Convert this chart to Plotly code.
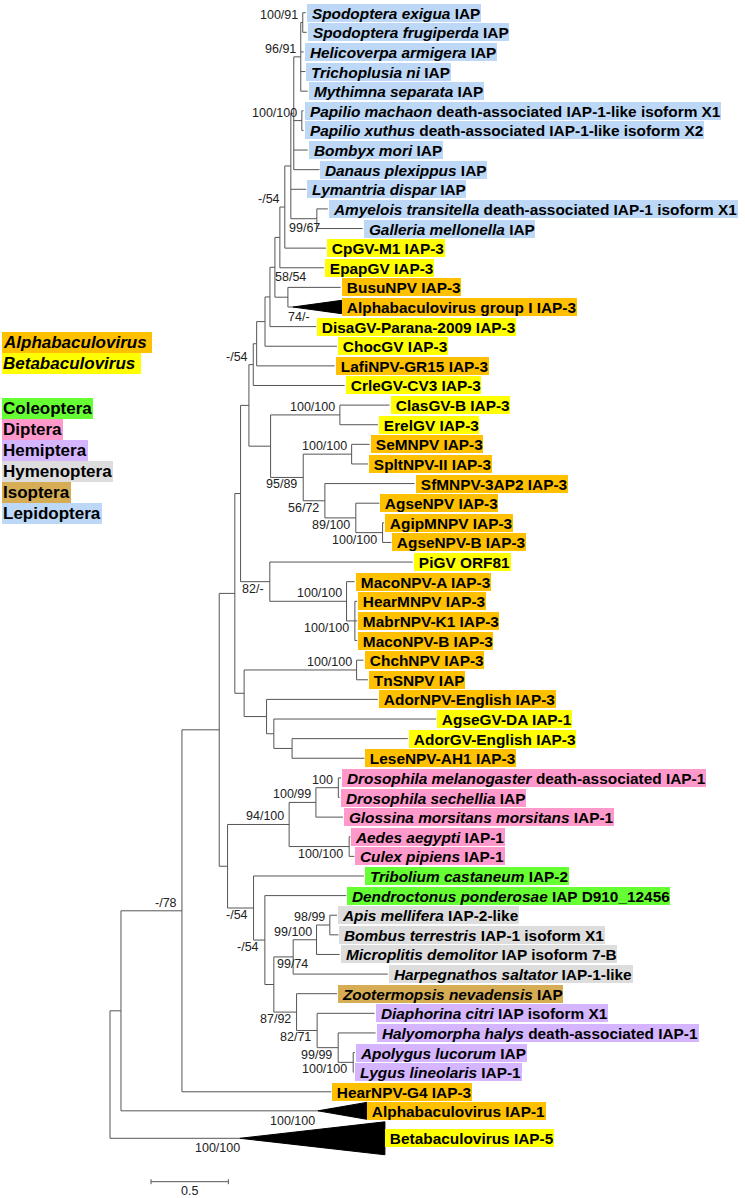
import re
import plotly.graph_objects as go

# ============================ DATA ============================
# Tree (Newick): branch lengths in substitutions/site, internal labels = support values
newick_lepidoptera = ("((((SpEx:0.019,SpFr:0.026)100/91:0.013,HeAr:0.019,TrNi:0.030,MySe:0.045)96/91:0.045,"
                      "(PaMa:0.011,PaXu:0.011)100/100:0.052,BoMo:0.090,DaPl:0.166):0.019,"
                      "LyDi:0.099,(AmTr:0.071,GaMe:0.297)99/67:0.168):0.039")
newick_gv_ladder = ("((((((({lep},CpGV:0.267)-/54:0.032,EpapGV:0.284):0.032,"
                    "(BusuNPV:0.341,AlphaI:0.032)58/54:0.084):0.032,DisaGV:0.299):0.032,"
                    "ChocGV:0.465):0.054,LafiNPV:0.504):0.022,CrleGV:0.591)-/54:0.028")
newick_npv = ("((ClasGV:0.321,ErelGV:0.246)100/100:0.448,((SeMNPV:0.116,SpltNPV:0.105)100/100:0.313,"
              "(SfMNPV:0.580,(AgseNPV:0.153,(AgipMNPV:0.010,AgseNPVB:0.057)100/100:0.173)89/100:0.200)"
              "56/72:0.140)95/89:0.211):0.140")
newick_maco = ("(PiGV:0.924,(MacoNPVA:0.052,(HearMNPV:0.015,MabrNPV:0.015,MacoNPVB:0.015)100/100:0.054)"
               "100/100:0.496)82/-:0.189")
newick_ador = ("((ChchNPV:0.045,TnSNPV:0.073)100/100:0.727,(AdorNPV:0.719,(AgseGVDA:1.049,"
               "(AdorGV:0.748,LeseNPV:0.468):0.118):0.047):0.145):0.060")
newick_diptera = ("(((DrMe:0.018,DrSe:0.008)100:0.145,GlMo:0.175)100/99:0.173,"
                  "(AeAe:0.008,CuPi:0.034)100/100:0.388)94/100:0.398")
newick_others = ("(TrCa:0.713,(DePo:0.526,((((ApMe:0.047,BoTe:0.056)98/99:0.086,MiDe:0.149)99/100:0.151,"
                 "HaSa:0.612)99/74:0.125,(ZoNe:0.262,(DiCi:0.371,(HaHa:0.242,(ApLu:0.011,LyLi:0.005)"
                 "100/100:0.097)99/99:0.136)82/71:0.133)87/92:0.147):0.058)-/54:0.073)-/54:0.168")
newick_backbone = ("((((((({ladder},{npv}):0.054,{maco}):0.037,{ador}):0.101,({diptera},{others}):0.054):0.241,"
                   "HearNPVG4:0.965)-/78:0.394,Alpha1:1.273):0.071,Beta5:0.840);")

leaf_ids = ["SpEx", "SpFr", "HeAr", "TrNi", "MySe", "PaMa", "PaXu", "BoMo", "DaPl", "LyDi", "AmTr", "GaMe",
            "CpGV", "EpapGV", "BusuNPV", "AlphaI", "DisaGV", "ChocGV", "LafiNPV", "CrleGV", "ClasGV", "ErelGV",
            "SeMNPV", "SpltNPV", "SfMNPV", "AgseNPV", "AgipMNPV", "AgseNPVB", "PiGV", "MacoNPVA", "HearMNPV",
            "MabrNPV", "MacoNPVB", "ChchNPV", "TnSNPV", "AdorNPV", "AgseGVDA", "AdorGV", "LeseNPV",
            "DrMe", "DrSe", "GlMo", "AeAe", "CuPi", "TrCa", "DePo", "ApMe", "BoTe", "MiDe", "HaSa", "ZoNe",
            "DiCi", "HaHa", "ApLu", "LyLi", "HearNPVG4", "Alpha1", "Beta5"]
leaf_names = ["<i>Spodoptera exigua</i> IAP", "<i>Spodoptera frugiperda</i> IAP",
              "<i>Helicoverpa armigera</i> IAP", "<i>Trichoplusia ni</i> IAP", "<i>Mythimna separata</i> IAP",
              "<i>Papilio machaon</i> death-associated IAP-1-like isoform X1",
              "<i>Papilio xuthus</i> death-associated IAP-1-like isoform X2",
              "<i>Bombyx mori</i> IAP", "<i>Danaus plexippus</i> IAP", "<i>Lymantria dispar</i> IAP",
              "<i>Amyelois transitella</i> death-associated IAP-1 isoform X1", "<i>Galleria mellonella</i> IAP",
              "CpGV-M1 IAP-3", "EpapGV IAP-3", "BusuNPV IAP-3", "Alphabaculovirus group I IAP-3",
              "DisaGV-Parana-2009 IAP-3", "ChocGV IAP-3", "LafiNPV-GR15 IAP-3", "CrleGV-CV3 IAP-3",
              "ClasGV-B IAP-3", "ErelGV IAP-3", "SeMNPV IAP-3", "SpltNPV-II IAP-3", "SfMNPV-3AP2 IAP-3",
              "AgseNPV IAP-3", "AgipMNPV IAP-3", "AgseNPV-B IAP-3", "PiGV ORF81", "MacoNPV-A IAP-3",
              "HearMNPV IAP-3", "MabrNPV-K1 IAP-3", "MacoNPV-B IAP-3", "ChchNPV IAP-3", "TnSNPV IAP",
              "AdorNPV-English IAP-3", "AgseGV-DA IAP-1", "AdorGV-English IAP-3", "LeseNPV-AH1 IAP-3",
              "<i>Drosophila melanogaster</i> death-associated IAP-1", "<i>Drosophila sechellia</i> IAP",
              "<i>Glossina morsitans morsitans</i> IAP-1", "<i>Aedes aegypti</i> IAP-1",
              "<i>Culex pipiens</i> IAP-1", "<i>Tribolium castaneum</i> IAP-2",
              "<i>Dendroctonus ponderosae</i> IAP D910_12456", "<i>Apis mellifera</i> IAP-2-like",
              "<i>Bombus terrestris</i> IAP-1 isoform X1", "<i>Microplitis demolitor</i> IAP isoform 7-B",
              "<i>Harpegnathos saltator</i> IAP-1-like", "<i>Zootermopsis nevadensis</i> IAP",
              "<i>Diaphorina citri</i> IAP isoform X1", "<i>Halyomorpha halys</i> death-associated IAP-1",
              "<i>Apolygus lucorum</i> IAP", "<i>Lygus lineolaris</i> IAP-1", "HearNPV-G4 IAP-3",
              "Alphabaculovirus IAP-1", "Betabaculovirus IAP-5"]
leaf_groups = ["Lep"] * 12 + ["Beta", "Beta", "Alpha", "Alpha", "Beta", "Beta", "Alpha", "Beta", "Beta", "Beta",
                              "Alpha", "Alpha", "Alpha", "Alpha", "Alpha", "Alpha", "Beta", "Alpha", "Alpha",
                              "Alpha", "Alpha", "Alpha", "Alpha", "Alpha", "Beta", "Beta", "Alpha"] \
              + ["Dip"] * 5 + ["Col", "Col"] + ["Hym"] * 4 + ["Iso"] + ["Hem"] * 4 + ["Alpha", "Alpha", "Beta"]

collapsed_ids = ["AlphaI", "Alpha1", "Beta5"]
collapsed_depth = [0.315, 0.315, 0.937]
collapsed_support = ["74/-", "100/100", "100/100"]

legend_names = ["Alphabaculovirus", "Betabaculovirus", "Coleoptera", "Diptera", "Hemiptera",
                "Hymenoptera", "Isoptera", "Lepidoptera"]
legend_groups = ["Alpha", "Beta", "Col", "Dip", "Hem", "Hym", "Iso", "Lep"]
legend_italic = [True, True, False, False, False, False, False, False]

scale_length = 0.5
scale_text = "0.5"

# ======================= STYLE / LAYOUT =======================
W, H = 745, 1198
PX_PER_UNIT = 154.7
ROOT_PX = 110.0
ROW_PX = 19.62
ROW1_PX = 12.7
FONT = "Liberation Sans, Arial, Helvetica, sans-serif"
LINE_COLOR = "#555555"
LABEL_SIZE = 15.4
group_colors = {"Alpha": "#FFC000", "Beta": "#FFFF00", "Col": "#66FF33", "Dip": "#FF99CC",
                "Hem": "#D5B5FF", "Hym": "#DDDDDD", "Iso": "#D6AD55", "Lep": "#BCD8F6"}
row_gap = {"Alpha1": 0.97, "Beta5": 1.4}
collapsed_half = {"AlphaI": 0.34, "Alpha1": 0.43, "Beta5": 0.84}
collapsed_label_shift = {"AlphaI": (19, 10), "Alpha1": (-1, 10), "Beta5": (2, 10)}
# placement of support labels, in the order they appear in the Newick string
support_place = ['a', 'a', 'a', (5, 9), 'a', (20, -20), 'a',
                 'a', 'a', 'b', 'b', 'b', 'b',
                 'b', 'a', 'b',
                 'a',
                 'a', 'a', 'b', 'a',
                 'a', 'a', (17, 7), 'b', 'b', 'b', 'b', 'b', 'b',
                 'a']
place_default = {'a': (-3, -8), 'b': (-4, 7)}
legend_y_px = [342.7, 363.3, 408.3, 429.3, 450.3, 471.3, 492.3, 513.3]
SCALE_X0_PX, SCALE_Y_PX = 151.0, 1181.7

# ======================== BUILD TREE ========================
newick = newick_backbone.format(
    ladder=newick_gv_ladder.format(lep=newick_lepidoptera), npv=newick_npv, maco=newick_maco,
    ador=newick_ador, diptera=newick_diptera, others=newick_others)


def parse_newick(s):
    s = s.strip().rstrip(";")
    pos = 0

    def parse_node():
        nonlocal pos
        node = {"children": [], "name": "", "bl": 0.0}
        if s[pos] == "(":
            pos += 1
            while True:
                node["children"].append(parse_node())
                ch = s[pos]
                pos += 1
                if ch == ")":
                    break
        m = re.match(r"[^:,();]*", s[pos:])
        node["name"] = m.group(0)
        pos += m.end()
        if pos < len(s) and s[pos] == ":":
            pos += 1
            m = re.match(r"[-+0-9.eE]+", s[pos:])
            node["bl"] = float(m.group(0))
            pos += m.end()
        return node

    return parse_node()


root = parse_newick(newick)

leaf_row = {}
r = 0.0
for i, lid in enumerate(leaf_ids):
    r = 1.0 if i == 0 else r + row_gap.get(lid, 1.0)
    leaf_row[lid] = r

support_nodes = []
leaf_nodes = []


def layout(node, px):
    node["x"] = px + node["bl"]
    if node["children"]:
        for c in node["children"]:
            layout(c, node["x"])
        node["y"] = (node["children"][0]["y"] + node["children"][-1]["y"]) / 2.0
        if node["name"]:
            support_nodes.append(node)
    else:
        node["y"] = leaf_row[node["name"]]
        leaf_nodes.append(node)


layout(root, 0.0)

lx, ly = [], []


def seg(x0, y0, x1, y1):
    lx.extend([x0, x1, None])
    ly.extend([y0, y1, None])


def draw(node):
    if node["children"]:
        seg(node["x"], node["children"][0]["y"], node["x"], node["children"][-1]["y"])
        for c in node["children"]:
            seg(node["x"], c["y"], c["x"], c["y"])
            draw(c)


draw(root)

# scale bar
sx0 = (SCALE_X0_PX - ROOT_PX) / PX_PER_UNIT
sy = 1 + (SCALE_Y_PX - ROW1_PX) / ROW_PX
tick = 2.5 / ROW_PX
seg(sx0, sy, sx0 + scale_length, sy)
seg(sx0, sy - tick, sx0, sy + tick)
seg(sx0 + scale_length, sy - tick, sx0 + scale_length, sy + tick)

fig = go.Figure()
fig.add_trace(go.Scatter(x=lx, y=ly, mode="lines", line=dict(color=LINE_COLOR, width=1),
                         hoverinfo="skip", showlegend=False))

# collapsed clades (triangles)
tx, ty = [], []
name_to_node = {n["name"]: n for n in leaf_nodes}
for cid, depth in zip(collapsed_ids, collapsed_depth):
    n = name_to_node[cid]
    h = collapsed_half[cid]
    tx.extend([n["x"], n["x"] + depth, n["x"] + depth, n["x"], None])
    ty.extend([n["y"], n["y"] - h, n["y"] + h, n["y"], None])
fig.add_trace(go.Scatter(x=tx, y=ty, mode="lines", fill="toself", fillcolor="black",
                         line=dict(color="black", width=1), hoverinfo="skip", showlegend=False))

annotations = []
# leaf labels
for lid, name, grp in zip(leaf_ids, leaf_names, leaf_groups):
    n = name_to_node[lid]
    tip = n["x"]
    shift = 1
    if lid in collapsed_ids:
        tip += collapsed_depth[collapsed_ids.index(lid)]
        shift = 0.5
    annotations.append(dict(x=tip, y=n["y"], xref="x", yref="y", xanchor="left", yanchor="middle",
                            xshift=shift, showarrow=False, text="<b>\u00a0" + name + "</b>",
                            font=dict(family=FONT, size=LABEL_SIZE, color="black"),
                            bgcolor=group_colors[grp], borderpad=0.6, borderwidth=0))

# support labels
for node, pl in zip(support_nodes, support_place):
    dx, dy = place_default[pl] if isinstance(pl, str) else pl
    annotations.append(dict(x=node["x"], y=node["y"], xref="x", yref="y", xanchor="right",
                            yanchor="middle", xshift=dx, yshift=-dy, showarrow=False,
                            text=node["name"], font=dict(family=FONT, size=12.5, color="#222222")))
for cid, sup in zip(collapsed_ids, collapsed_support):
    n = name_to_node[cid]
    dx, dy = collapsed_label_shift[cid]
    annotations.append(dict(x=n["x"], y=n["y"], xref="x", yref="y", xanchor="right", yanchor="middle",
                            xshift=dx, yshift=-dy, showarrow=False, text=sup,
                            font=dict(family=FONT, size=12.5, color="#222222")))

# scale label
annotations.append(dict(x=sx0 + scale_length / 2, y=sy, xref="x", yref="y", xanchor="center",
                        yanchor="middle", yshift=-9.5, showarrow=False, text=scale_text,
                        font=dict(family=FONT, size=12.5, color="#222222")))

# legend
for name, grp, it, py in zip(legend_names, legend_groups, legend_italic, legend_y_px):
    txt = "<b><i>" + name + "</i>\u00a0</b>" if it else "<b>" + name + "</b>"
    annotations.append(dict(x=2.0 / W, y=1 - py / H, xref="paper", yref="paper", xanchor="left",
                            yanchor="middle", showarrow=False, text=txt,
                            font=dict(family=FONT, size=17, color="black"),
                            bgcolor=group_colors[grp], borderpad=1, borderwidth=0))

x_lo = -ROOT_PX / PX_PER_UNIT
x_hi = (W - ROOT_PX) / PX_PER_UNIT
y_top = 1 - ROW1_PX / ROW_PX
y_bot = 1 + (H - ROW1_PX) / ROW_PX

fig.update_layout(width=W, height=H, autosize=False, margin=dict(l=0, r=0, t=0, b=0, pad=0),
                  paper_bgcolor="white", plot_bgcolor="white", showlegend=False,
                  hovermode=False, dragmode=False,
                  xaxis=dict(range=[x_lo, x_hi], visible=False, showgrid=False, zeroline=False,
                             fixedrange=True),
                  yaxis=dict(range=[y_bot, y_top], visible=False, showgrid=False, zeroline=False,
                             fixedrange=True),
                  annotations=annotations)

fig.write_html("out.html", config={"displayModeBar": False, "staticPlot": True},
               post_script="document.body.style.margin='0';document.body.style.padding='0';"
                           "document.body.style.overflow='hidden';")
